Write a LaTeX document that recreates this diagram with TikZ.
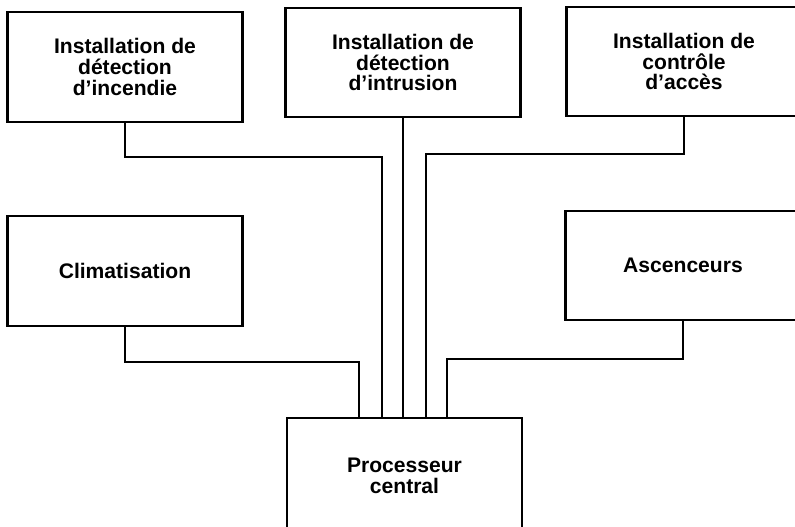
\documentclass[tikz,border=0pt]{standalone}
\usepackage{fontspec}
\setmainfont{Liberation Sans}
\tikzset{
	unit/.style={draw,line width=1.9pt,rectangle,minimum width=7.05cm,minimum height=3.28cm,align=center,inner sep=0pt,font=\fontsize{18}{17.8}\selectfont\bfseries},
	bus/.style={line width=1.9pt}
}
\begin{document}
\begin{tikzpicture}[x=0.03cm,y=-0.03cm]
	
	\useasboundingbox (0,0) rectangle (795,526);
	\clip (0,0) rectangle (795,526);
	
	\node[unit] (incendie) at (125,67) {Installation de\\détection\\d’incendie};
	\node[unit] (intrusion) at (403,62.5) {Installation de\\détection\\d’intrusion};
	\node[unit] (acces) at (684,61.5) {Installation de\\contrôle\\d’accès};
	
	\node[unit] (clim) at (125,271) {Climatisation};
	\node[unit] (asc) at (683,265.5) {Ascenceurs};
	
	\node[unit,minimum height=3.45cm] (proc) at (404.5,475.5) {Processeur\\central};
	
	\draw[bus](clim.south)--++(0,35)-|([xshift=-1.36cm]proc.north);
	\draw[bus](incendie.south)--++(0,34)-|([xshift=-0.67cm]proc.north);
	\draw[bus](intrusion.south)--(intrusion.south|-proc.north);
	\draw[bus](acces.south)--++(0,37)-|([xshift=0.65cm]proc.north);
	\draw[bus](asc.south)--++(0,38)-|([xshift=1.28cm]proc.north);
	
\end{tikzpicture}
\end{document}
